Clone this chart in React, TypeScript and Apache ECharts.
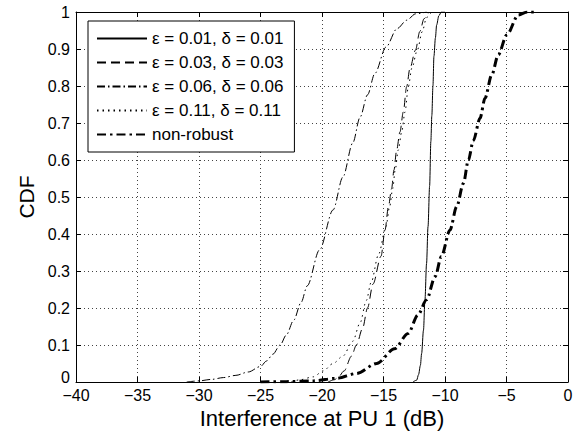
import React, { useEffect, useRef } from "react";
import * as echarts from "echarts";

const seriesNames = [
  "ε = 0.01, δ = 0.01",
  "ε = 0.03, δ = 0.03",
  "ε = 0.06, δ = 0.06",
  "ε = 0.11, δ = 0.11",
  "non-robust",
];

const eps001: [number, number][] = [
  [-12.6, 0], [-12.3, 0.005], [-12.15, 0.02], [-12.0, 0.045], [-11.9, 0.077],
  [-11.75, 0.14], [-11.63, 0.222], [-11.5, 0.32], [-11.38, 0.42], [-11.25, 0.53],
  [-11.15, 0.65], [-11.07, 0.72], [-10.98, 0.8], [-10.9, 0.88], [-10.78, 0.93],
  [-10.68, 0.965], [-10.5, 0.99], [-10.3, 1], [-10.0, 1],
];

const eps003: [number, number][] = [
  [-19.5, 0], [-19.0, 0.006], [-18.7, 0.012], [-18.2, 0.03], [-17.6, 0.07],
  [-17.2, 0.1], [-16.7, 0.145], [-16.3, 0.2], [-15.85, 0.265], [-15.2, 0.34],
  [-14.88, 0.41], [-14.6, 0.474], [-14.34, 0.523], [-14.15, 0.573], [-13.93, 0.627],
  [-13.66, 0.676], [-13.39, 0.73], [-13.12, 0.798], [-12.85, 0.848], [-12.4, 0.897],
  [-12.05, 0.947], [-11.7, 0.982], [-11.3, 1],
];

const eps006: [number, number][] = [
  [-31, 0], [-30, 0.003], [-29, 0.007], [-28, 0.012], [-27, 0.018], [-26, 0.027],
  [-25, 0.042], [-24.5, 0.057], [-24, 0.075], [-23.4, 0.1], [-22.9, 0.127],
  [-22.3, 0.167], [-21.7, 0.215], [-21.2, 0.26], [-20.2, 0.357], [-19.1, 0.465],
  [-18.3, 0.554], [-17.5, 0.646], [-16.9, 0.716], [-16.3, 0.776], [-15.7, 0.834],
  [-14.8, 0.905], [-13.9, 0.955], [-13.1, 0.978], [-12.4, 0.995], [-11.5, 1],
];

const eps011: [number, number][] = [
  [-22.5, 0], [-21.8, 0.006], [-20.7, 0.014], [-19.9, 0.03], [-19.1, 0.05],
  [-18.3, 0.07], [-17.5, 0.11], [-16.9, 0.16], [-16.4, 0.22], [-16.0, 0.27],
  [-15.4, 0.345], [-14.8, 0.42], [-14.5, 0.474], [-14.25, 0.523], [-14.05, 0.573],
  [-13.8, 0.627], [-13.52, 0.676], [-13.25, 0.73], [-12.98, 0.798], [-12.7, 0.848],
  [-12.25, 0.897], [-11.85, 0.947], [-11.5, 0.985], [-11.1, 1],
];

const nonRobust: [number, number][] = [
  [-25, 0], [-22.9, 0.001], [-20.7, 0.003], [-18.8, 0.01], [-17.2, 0.023],
  [-15.55, 0.05], [-14.1, 0.09], [-13.0, 0.131], [-12.2, 0.181], [-11.5, 0.222],
  [-10.8, 0.285], [-10.3, 0.339], [-9.6, 0.41], [-9.05, 0.474], [-8.5, 0.537],
  [-8.1, 0.6], [-7.7, 0.652], [-7.15, 0.713], [-6.75, 0.767], [-6.2, 0.83],
  [-5.67, 0.884], [-4.98, 0.938], [-4.04, 0.992], [-3.3, 1], [-2.5, 1],
];

const xMin = -40;
const xMax = 0;
const xStep = 5;
const yMin = 0;
const yMax = 1;
const yStep = 0.1;

const FONT = "'Liberation Sans', Arial, Helvetica, sans-serif";

export default function App() {
  const ref = useRef<HTMLDivElement>(null);

  useEffect(() => {
    if (!ref.current) return;
    const chart = echarts.init(ref.current, null, { renderer: "svg" });

    const fmtX = (v: number) => (v < 0 ? "\u2212" + Math.abs(v) : String(v));
    const fmtY = (v: number) => {
      const s = String(Math.round(v * 10) / 10);
      return v === 0 ? "{z|" + s + "}" : s;
    };

    const styles = [
      { width: 1, type: "solid" as any },
      { width: 1, type: [9, 5] },
      { width: 1, type: [8, 3, 1.5, 3] },
      { width: 1, type: [1.5, 4] },
      { width: 3, type: [9, 4, 2.5, 4] },
    ];
    const datasets = [eps001, eps003, eps006, eps011, nonRobust];

    const series = datasets.map((d, i) => ({
      name: seriesNames[i],
      type: "line",
      data: d,
      xAxisIndex: 0,
      yAxisIndex: 0,
      showSymbol: false,
      symbol: "none",
      smooth: 0.3,
      smoothMonotone: "x",
      lineStyle: { color: "#000", width: styles[i].width, type: styles[i].type, cap: "butt" },
      itemStyle: { color: "#000" },
      emphasis: { disabled: true },
      z: 3,
    }));

    const gridLine = { show: true, lineStyle: { color: "#444", width: 1, type: [1, 3] } };

    chart.setOption({
      animation: false,
      backgroundColor: "#fff",
      grid: { left: 76, right: 11, top: 12, bottom: 53, containLabel: false },
      legend: {
        left: 88,
        top: 21,
        orient: "vertical",
        backgroundColor: "#fff",
        borderColor: "#000",
        borderWidth: 1,
        padding: [9, 11, 9, 8],
        itemWidth: 50,
        itemHeight: 14,
        itemGap: 7,
        itemStyle: { opacity: 0 },
        textStyle: { fontFamily: FONT, fontSize: 17, color: "#000" },
        data: seriesNames,
        selectedMode: false,
      },
      xAxis: [
        {
          type: "value",
          min: xMin,
          max: xMax,
          interval: xStep,
          position: "bottom",
          name: "Interference at PU 1 (dB)",
          nameLocation: "middle",
          nameGap: 17,
          nameTextStyle: { fontFamily: FONT, fontSize: 22, color: "#000" },
          axisLine: { show: true, onZero: false, lineStyle: { color: "#000", width: 1 } },
          axisTick: { show: true, inside: true, length: 5, lineStyle: { color: "#000" } },
          axisLabel: { formatter: fmtX, fontFamily: FONT, fontSize: 16, color: "#000", margin: 5, lineHeight: 16 },
          splitLine: gridLine,
        },
        {
          type: "value",
          min: xMin,
          max: xMax,
          interval: xStep,
          position: "top",
          axisLine: { show: true, onZero: false, lineStyle: { color: "#000", width: 1 } },
          axisTick: { show: true, inside: true, length: 5, lineStyle: { color: "#000" } },
          axisLabel: { show: false },
          splitLine: { show: false },
        },
      ],
      yAxis: [
        {
          type: "value",
          min: yMin,
          max: yMax,
          interval: yStep,
          position: "left",
          name: "CDF",
          nameLocation: "middle",
          nameGap: 38,
          nameTextStyle: { fontFamily: FONT, fontSize: 21, color: "#000" },
          axisLine: { show: true, onZero: false, lineStyle: { color: "#000", width: 1 } },
          axisTick: { show: true, inside: true, length: 5, lineStyle: { color: "#000" } },
          axisLabel: {
            formatter: fmtY,
            fontFamily: FONT,
            fontSize: 16,
            color: "#000",
            margin: 6,
            lineHeight: 14,
            rich: { z: { fontFamily: FONT, fontSize: 16, color: "#000", lineHeight: 14, padding: [0, 0, 9, 0] } },
          },
          splitLine: gridLine,
        },
        {
          type: "value",
          min: yMin,
          max: yMax,
          interval: yStep,
          position: "right",
          axisLine: { show: true, onZero: false, lineStyle: { color: "#000", width: 1 } },
          axisTick: { show: true, inside: true, length: 5, lineStyle: { color: "#000" } },
          axisLabel: { show: false },
          splitLine: { show: false },
        },
      ],
      series,
    });

    return () => chart.dispose();
  }, []);

  return (
    <div
      ref={ref}
      style={{ position: "fixed", left: 0, top: 0, width: 579, height: 435, background: "#fff" }}
    />
  );
}
